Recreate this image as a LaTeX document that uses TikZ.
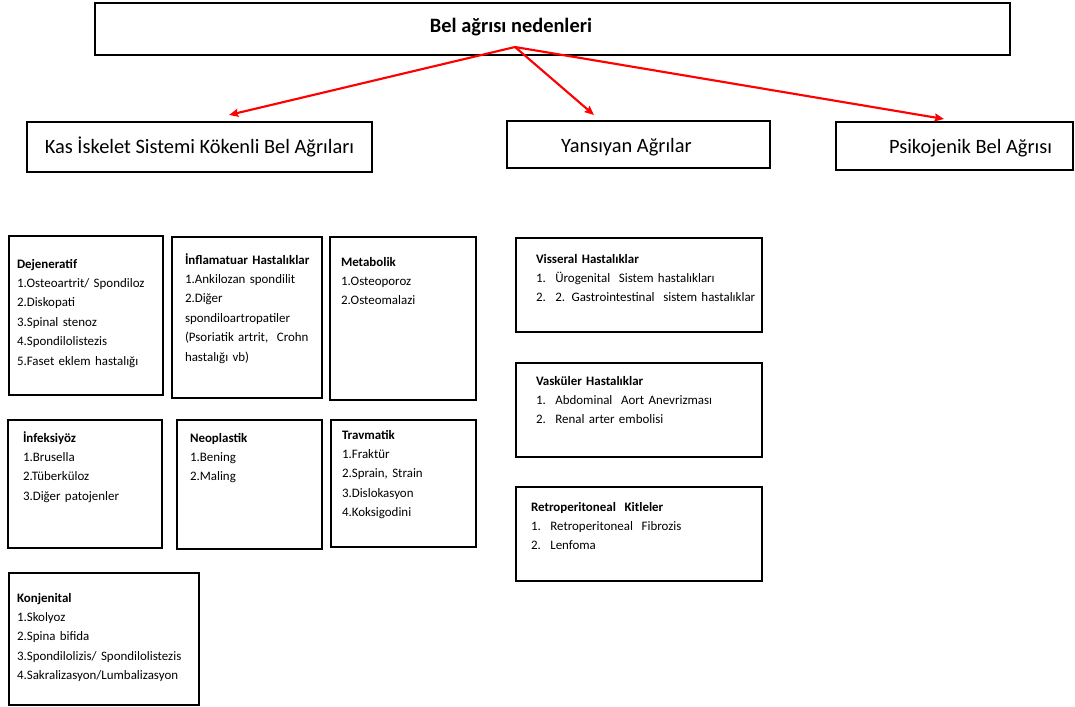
\documentclass[tikz,border=0pt]{standalone}
\usepackage{fontspec}
\setmainfont{Carlito}
\usetikzlibrary{arrows.meta,fit}

\newcommand\numitem[1]{\makebox[14.5pt][l]{#1}}

\begin{document}
\begin{tikzpicture}[
      x=0.75pt, y=-0.75pt,
      every node/.style = {inner sep=0pt, outer sep=0pt},
      box/.style        = {draw=black, line width=1.7pt, fit={#1}},
      title/.style      = {font=\bfseries\fontsize{15.3}{18}\selectfont},
      heading/.style    = {font=\fontsize{15.3}{18}\selectfont},
      group/.style      = {anchor=base west, align=left, text width=135pt, font=\fontsize{9.7}{14.6}\selectfont},
      cause/.style      = {draw=red, line width=1.6pt, -{Stealth[length=7pt, width=6pt, inset=1pt]}}
    ]
    \useasboundingbox (0,0) rectangle (1075,707);

    \node (causes)      [box={(95,3) (1010,55)}] {};
    \node (causestitle) [title] at ([shift={(-41.5,-2)}]causes.center) {Bel ağrısı nedenleri};

    \node (musculo)      [box={(27,122) (372,172)}]  {};
    \node (musculotext)  [heading] at (musculo.center) {Kas İskelet Sistemi Kökenli Bel Ağrıları};
    \node (referred)     [box={(507,121) (770,168)}] {};
    \node (referredtext) [heading] at ([shift={(-12,3)}]referred.center) {Yansıyan Ağrılar};
    \node (psycho)       [box={(836,122) (1073,170)}] {};
    \node (psychotext)   [heading] at ([shift={(16,2)}]psycho.center) {Psikojenik Bel Ağrısı};

    \coordinate (fork)       at (515,47);
    \coordinate (musculoin)  at (229,115);
    \coordinate (referredin) at (594,115);
    \coordinate (psychoin)   at (944,119);

    \draw[cause] (fork) -- (musculoin);
    \draw[cause] (fork) -- (referredin);
    \draw[cause] (fork) -- (psychoin);

    % musculoskeletal groups
    \node (degen)     [box={(9,236) (163,395)}] {};
    \node (degentext) [group] at ([shift={(8,32)}]degen.north west)
      {\textbf{Dejeneratif}\\1.Osteoartrit/ Spondiloz\\2.Diskopati\\3.Spinal stenoz\\4.Spondilolistezis\\5.Faset eklem hastalığı};
    \node (inflam)     [box={(172,237) (322,398)}] {};
    \node (inflamtext) [group] at ([shift={(13,27)}]inflam.north west)
      {\textbf{İnflamatuar Hastalıklar}\\1.Ankilozan spondilit\\2.Diğer\\spondiloartropatiler\\(Psoriatik artrit,\ \ Crohn\\hastalığı vb)};
    \node (metab)     [box={(330,237) (476,400)}] {};
    \node (metabtext) [group] at ([shift={(11,29)}]metab.north west)
      {\textbf{Metabolik}\\1.Osteoporoz\\2.Osteomalazi};

    \node (infect)     [box={(8,420) (162,548)}] {};
    \node (infecttext) [group] at ([shift={(15,22)}]infect.north west)
      {\textbf{İnfeksiyöz}\\1.Brusella\\2.Tüberküloz\\3.Diğer patojenler};
    \node (neopl)     [box={(177,420) (322,549)}] {};
    \node (neopltext) [group] at ([shift={(13,22)}]neopl.north west)
      {\textbf{Neoplastik}\\1.Bening\\2.Maling};
    \node (trauma)     [box={(331,420) (476,547)}] {};
    \node (traumatext) [group] at ([shift={(11,19)}]trauma.north west)
      {\textbf{Travmatik}\\1.Fraktür\\2.Sprain, Strain\\3.Dislokasyon\\4.Koksigodini};

    \node (congen)     [box={(9,573) (199,705)}] {};
    \node (congentext) [group] at ([shift={(8,29)}]congen.north west)
      {\textbf{Konjenital}\\1.Skolyoz\\2.Spina bifida\\3.Spondilolizis/ Spondilolistezis\\4.Sakralizasyon/Lumbalizasyon};

    % referred pain groups
    \node (visceral)     [box={(516,238) (762,332)}] {};
    \node (visceraltext) [group, text width=220pt] at ([shift={(20,25)}]visceral.north west)
      {\textbf{Visseral Hastalıklar}\\\numitem{1.}Ürogenital\ \ Sistem hastalıkları\\\numitem{2.}2. Gastrointestinal\ \ sistem hastalıklar};
    \node (vascular)     [box={(516,363) (762,457)}] {};
    \node (vasculartext) [group, text width=220pt] at ([shift={(20,22)}]vascular.north west)
      {\textbf{Vasküler Hastalıklar}\\\numitem{1.}Abdominal\ \ Aort Anevrizması\\\numitem{2.}Renal arter embolisi};
    \node (retro)     [box={(516,487) (762,581)}] {};
    \node (retrotext) [group, text width=220pt] at ([shift={(15,24)}]retro.north west)
      {\textbf{Retroperitoneal\ \ Kitleler}\\\numitem{1.}Retroperitoneal\ \ Fibrozis\\\numitem{2.}Lenfoma};

  \end{tikzpicture}
\end{document}
